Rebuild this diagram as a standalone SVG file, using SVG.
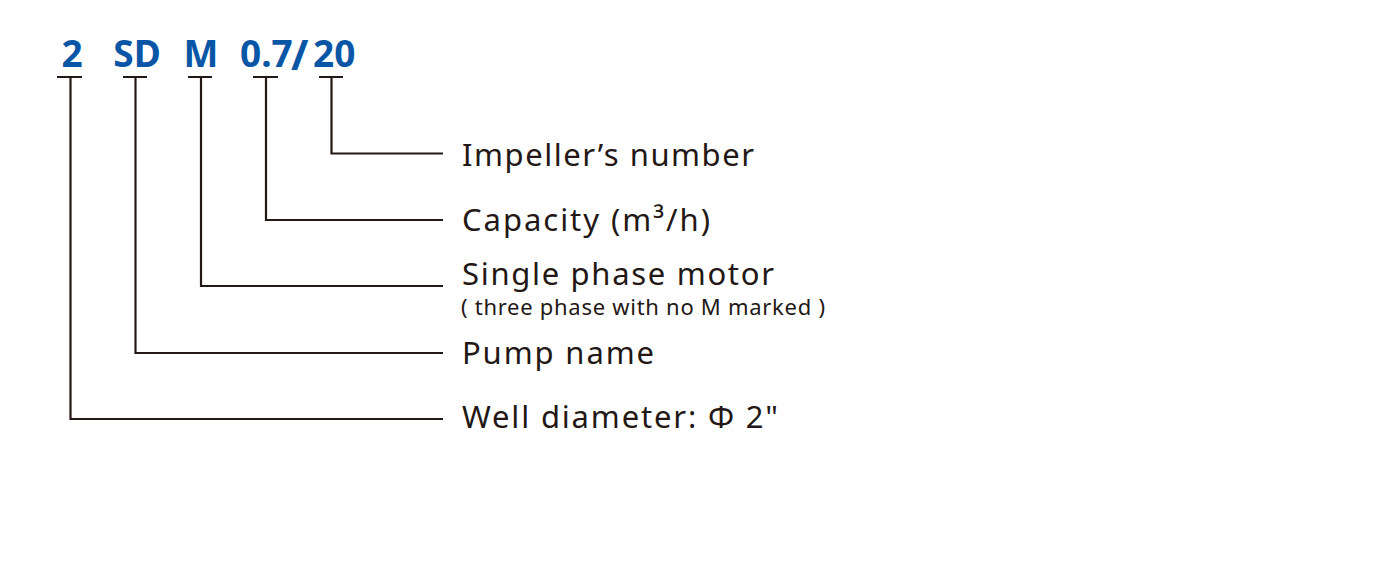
<svg xmlns="http://www.w3.org/2000/svg" width="1400" height="566" viewBox="0 0 1400 566">
<style>
.hd{font-family:"Noto Sans","Liberation Sans",sans-serif;font-weight:bold;font-size:37px;fill:#0a56a6}
.lb{font-family:"Noto Sans","Liberation Sans",sans-serif;font-size:31px;fill:#231815}
.sm{font-family:"Noto Sans","Liberation Sans",sans-serif;font-size:22px;fill:#231815}
.ln{fill:none;stroke:#231815;stroke-width:2.2}
</style>
<rect width="1400" height="566" fill="#ffffff"/>
<g id="header">
<text class="hd" x="72" y="67" text-anchor="middle">2</text>
<text class="hd" x="137" y="67" text-anchor="middle">SD</text>
<text class="hd" x="201" y="67" text-anchor="middle">M</text>
<text class="hd" x="240" y="67">0.7</text>
<text class="hd" x="291" y="70" style="font-size:42px">/</text>
<text class="hd" x="313" y="67">20</text>
</g>
<g id="connectors">
<path class="ln" d="M57 77H82M70.5 77V419H443"/>
<path class="ln" d="M123 77H147M135.5 77V353H443"/>
<path class="ln" d="M188 77H212M201 77V286H443"/>
<path class="ln" d="M253 77H278M266 77V220H443"/>
<path class="ln" d="M319 77H343M331.5 77V153.5H443"/>
</g>
<g id="impeller"><text class="lb" x="462" y="166" textLength="292" lengthAdjust="spacing">Impeller’s number</text></g>
<g id="capacity"><text class="lb" x="462" y="231" textLength="248" lengthAdjust="spacing">Capacity (m³/h)</text></g>
<g id="motor"><text class="lb" x="462" y="285" textLength="312" lengthAdjust="spacing">Single phase motor</text><text class="sm" x="461" y="315" textLength="364" lengthAdjust="spacing">( three phase with no M marked )</text></g>
<g id="pump"><text class="lb" x="462" y="364" textLength="192" lengthAdjust="spacing">Pump name</text></g>
<g id="well"><text class="lb" x="462" y="428" textLength="316" lengthAdjust="spacing">Well diameter: Φ 2"</text></g>
</svg>
